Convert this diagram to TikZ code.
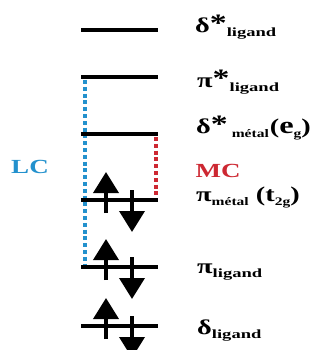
\documentclass[tikz,border=0pt]{standalone}
\usepackage{fontspec}
\setmainfont{Liberation Serif}[FakeStretch=1.35]
\usetikzlibrary{arrows.meta,calc}
\definecolor{lcblue}{RGB}{35,145,205}
\definecolor{mcred}{RGB}{205,40,50}
\newcommand\lsub[1]{\raisebox{-4pt}{\fontsize{12.5}{12}\selectfont\scalebox{1.1}[1]{#1}}}
\newcommand\msub[1]{\raisebox{-4pt}{\fontsize{11.5}{11}\selectfont #1}}
\newcommand\myast{\raisebox{1pt}{\fontsize{25}{25}\selectfont *}}
\tikzset{
 orbital/.style={line width=3.2pt},
 spin/.style={line width=3.8pt,-{Triangle[length=21pt,width=25pt]}},
 lbl/.style={anchor=base west,inner sep=0pt,font=\bfseries\fontsize{21}{21}\selectfont},
 lcline/.style={line width=4.5pt,dash pattern=on 4pt off 2.8pt,draw=lcblue},
 mcline/.style={line width=4pt,dash pattern=on 4pt off 2.8pt,draw=mcred},
 tag/.style={inner sep=0pt,font=\bfseries\fontsize{20}{20}\selectfont},
}
\newcommand\pair[1]{%
  \draw[spin] ($(#1)+(25,13)$) -- ($(#1)+(25,-28)$);
  \draw[spin] ($(#1)+(51,-10)$) -- ($(#1)+(51,32)$);}
\begin{document}
\begin{tikzpicture}[x=1pt,y=-1pt]
\useasboundingbox (0,0) rectangle (331,350);
% level end points
\coordinate (A1) at (81,30);  \coordinate (B1) at (158,30);
\coordinate (A2) at (81,77);  \coordinate (B2) at (158,77);
\coordinate (A3) at (81,134); \coordinate (B3) at (158,134);
\coordinate (A4) at (81,200); \coordinate (B4) at (158,200);
\coordinate (A5) at (81,267); \coordinate (B5) at (158,267);
\coordinate (A6) at (81,326); \coordinate (B6) at (158,326);
% dotted transitions
\coordinate (lctop) at (85,80);  \coordinate (lcbot) at (85,266);
\coordinate (mctop) at (156,137); \coordinate (mcbot) at (156,199);
\draw[lcline] (lctop) -- (lcbot);
\draw[mcline] (mctop) -- (mcbot);
% levels
\foreach \i in {1,...,6} {\draw[orbital] (A\i) -- (B\i);}
% electrons
\pair{A4}
\pair{A5}
\pair{A6}
% labels
\node[lbl] (t1) at (195,33) {δ\myast\lsub{ligand}};
\node[lbl] (t2) at (197,88) {π\myast\lsub{ligand}};
\node[lbl] (t3) at (196,133) {δ\myast\kern4pt\msub{métal}\kern1pt({\fontsize{24}{24}\selectfont e}\msub{g})};
\node[lbl] (t4) at (196,201) {π\msub{métal} (t\msub{2g})};
\node[lbl] (t5) at (197,273) {π\lsub{ligand}};
\node[lbl] (t6) at (197,334) {δ\lsub{ligand}};
\node[tag,text=lcblue] (lc) at (30,166.5) {LC};
\node[tag,text=mcred] (mc) at (218,171) {MC};
\end{tikzpicture}
\end{document}
